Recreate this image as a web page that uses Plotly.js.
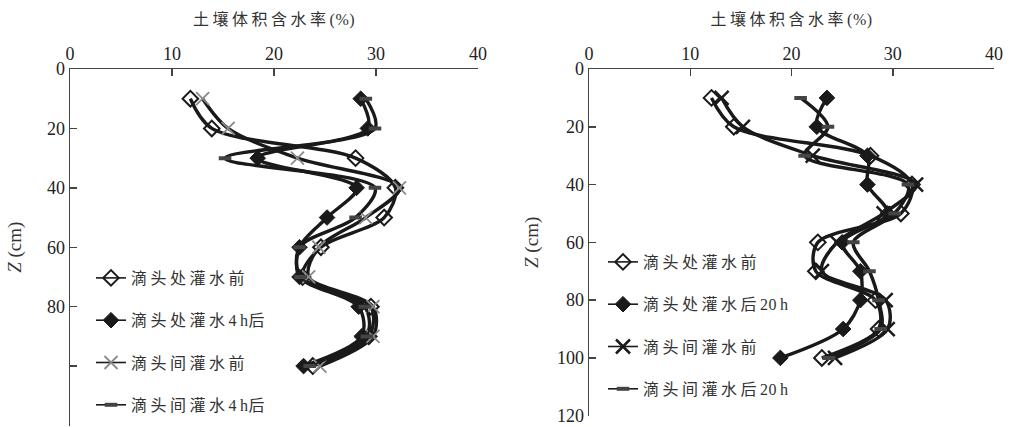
<!DOCTYPE html>
<html>
<head>
<meta charset="utf-8">
<script src="https://cdn.plot.ly/plotly-3.0.1.min.js"></script>
<style>
html,body{margin:0;padding:0;background:#fff;}
#chart{width:1014px;height:427px;}
</style>
</head>
<body>
<div id="chart"></div>
<script>
// depth (cm)
var depth = [10, 20, 30, 40, 50, 60, 70, 80, 90, 100];

// Left panel: soil volumetric water content (%)
var leftNames = ['滴头处灌水前', '滴头处灌水4 h后', '滴头间灌水前', '滴头间灌水4 h后'];
var leftDripBefore   = [11.8, 13.9, 28.0, 31.9, 30.8, 24.6, 22.8, 29.5, 29.3, 23.8];
var leftDripAfter    = [28.5, 29.2, 18.4, 28.1, 25.2, 22.5, 22.5, 28.3, 28.6, 22.9];
var leftBetweenBefore= [13.0, 15.5, 22.3, 32.3, 29.0, 24.4, 23.4, 29.7, 29.7, 24.5];
var leftBetweenAfter = [29.0, 29.9, 15.2, 29.9, 28.0, 22.5, 22.6, 28.9, 29.1, 23.5];

// Right panel
var rightNames = ['滴头处灌水前', '滴头处灌水后20 h', '滴头间灌水前', '滴头间灌水后20 h'];
var rightDripBefore   = [12.1, 14.3, 27.8, 31.9, 30.8, 22.6, 22.4, 28.3, 28.6, 23.0];
var rightDripAfter    = [23.5, 22.5, 27.5, 27.5, 29.5, 25.0, 26.8, 26.8, 25.1, 18.9];
var rightBetweenBefore= [13.1, 15.2, 22.1, 32.3, 29.1, 24.5, 23.0, 29.3, 29.5, 24.3];
var rightBetweenAfter = [20.9, 23.6, 21.3, 31.5, 30.2, 26.1, 27.7, 28.6, 28.8, 23.7];

var xTickVals = [0, 10, 20, 30, 40];
var leftYTickVals = [0, 20, 40, 60, 80, 100, 120];
var leftYTickText = ['0', '20', '40', '60', '80', '', ''];
var rightYTickVals = [0, 20, 40, 60, 80, 100, 120];
var rightYTickText = ['0', '20', '40', '60', '80', '100', '120'];
var xTitle = '土壤体积含水率(%)';
var yTitle = '<i>Z</i> (cm)';

var LINE = '#1a1a1a';
var FONT = '"Liberation Serif", "Times New Roman", "Noto Sans CJK SC", serif';
var CJK = '"Liberation Serif", "Noto Sans CJK SC", serif';

var markerStyles = [
  {symbol: 'diamond-open', size: 12, color: LINE, line: {width: 2, color: LINE}},
  {symbol: 'diamond', size: 12, color: LINE, line: {width: 1, color: LINE}},
  {symbol: 'x-thin-open', size: 14, color: LINE, line: {width: 2.5, color: LINE}},
  {symbol: 'line-ew-open', size: 9, color: '#444', line: {width: 4, color: '#444'}}
];
var leftMarkerStyles = markerStyles.slice();
leftMarkerStyles[2] = {symbol: 'x-thin-open', size: 13, color: '#8a8a8a', line: {width: 1.8, color: '#8a8a8a'}};

var traces = [];
function addPanel(series, names, xa, ya, legendId, mstyles) {
  series.forEach(function (vals, i) {
    traces.push({
      type: 'scatter', mode: 'lines', x: vals, y: depth, xaxis: xa, yaxis: ya,
      line: {color: LINE, width: 3.4, shape: 'spline', smoothing: 0.9},
      showlegend: false, hoverinfo: 'skip'
    });
  });
  series.forEach(function (vals, i) {
    traces.push({
      type: 'scatter', mode: 'lines+markers', name: names[i], x: vals, y: depth,
      xaxis: xa, yaxis: ya, legend: legendId,
      legendgroup: legendId + i,
      line: {color: LINE, width: 1.6, shape: 'spline', smoothing: 0.9},
      marker: mstyles[i]
    });
  });
}
addPanel([leftDripBefore, leftDripAfter, leftBetweenBefore, leftBetweenAfter], leftNames, 'x', 'y', 'legend', leftMarkerStyles);
addPanel([rightDripBefore, rightDripAfter, rightBetweenBefore, rightBetweenAfter], rightNames, 'x2', 'y2', 'legend2', markerStyles);

function xAxis(domain, anchor) {
  return {
    domain: domain, anchor: anchor, side: 'top', range: [0, 40],
    tickvals: xTickVals, ticks: 'inside', ticklen: 7, tickcolor: '#444', tickwidth: 1.5,
    showline: true, linecolor: '#444', linewidth: 1.5, showgrid: false, zeroline: false,
    tickfont: {family: FONT, size: 18, color: '#222'},
    title: {text: xTitle, font: {family: CJK, size: 16, color: '#333'}, standoff: 14},
    automargin: false, fixedrange: true
  };
}
function yAxis(domain, anchor, tv, tt, standoff) {
  return {
    domain: domain, anchor: anchor, range: [120, 0],
    tickvals: tv, ticktext: tt, ticks: 'inside', ticklen: 7, tickcolor: '#444', tickwidth: 1.5,
    showline: true, linecolor: '#444', linewidth: 1.5, showgrid: false, zeroline: false,
    tickfont: {family: FONT, size: 18, color: '#222'},
    title: {text: yTitle, font: {family: FONT, size: 19, color: '#333'}, standoff: standoff},
    automargin: false, fixedrange: true
  };
}

var legendBase = {
  bgcolor: 'rgba(0,0,0,0)', borderwidth: 0, traceorder: 'grouped', tracegroupgap: 18.5,
  font: {family: CJK, size: 16, color: '#333'}, xanchor: 'left', yanchor: 'top',
  itemclick: false, itemdoubleclick: false
};
var legend1 = Object.assign({}, legendBase, {x: 91 / 1014, y: 1 - 261 / 427});
var legend2 = Object.assign({}, legendBase, {x: 603 / 1014, y: 1 - 245 / 427});

var layout = {
  width: 1014, height: 427,
  margin: {l: 0, r: 0, t: 0, b: 0, pad: 0},
  paper_bgcolor: '#fff', plot_bgcolor: 'rgba(0,0,0,0)',
  showlegend: true,
  xaxis: xAxis([70 / 1014, 478 / 1014], 'y'),
  yaxis: yAxis([1 - 425.5 / 427, 1 - 69 / 427], 'x', leftYTickVals, leftYTickText, 20),
  xaxis2: xAxis([589 / 1014, 994 / 1014], 'y2'),
  yaxis2: yAxis([1 - 415.7 / 427, 1 - 69 / 427], 'x2', rightYTickVals, rightYTickText, 13),
  legend: legend1,
  legend2: legend2
};

var SVGNS = 'http://www.w3.org/2000/svg';
Plotly.newPlot('chart', traces, layout, {staticPlot: true, displayModeBar: false}).then(function (gd) {
  // widen CJK character spacing like the original typesetting
  gd.querySelectorAll('text').forEach(function (el) {
    var s = el.textContent;
    if (!/[\u4e00-\u9fff]/.test(s) || el.querySelector('tspan')) return;
    el.textContent = '';
    Array.from(s).forEach(function (ch) {
      var t = document.createElementNS(SVGNS, 'tspan');
      t.textContent = ch;
      var ls = /[\u4e00-\u9fff]/.test(ch) ? 3.5 : (ch === ' ' ? -1 : 0.5);
      t.style.setProperty('letter-spacing', ls + 'px');
      el.appendChild(t);
    });
  });
  // let the widened legend text overflow the legend clip box
  gd.querySelectorAll('[clip-path]').forEach(function (el) {
    var cp = el.getAttribute('clip-path') || '';
    if (cp.indexOf('legend') !== -1) el.removeAttribute('clip-path');
  });
});
</script>
</body>
</html>
